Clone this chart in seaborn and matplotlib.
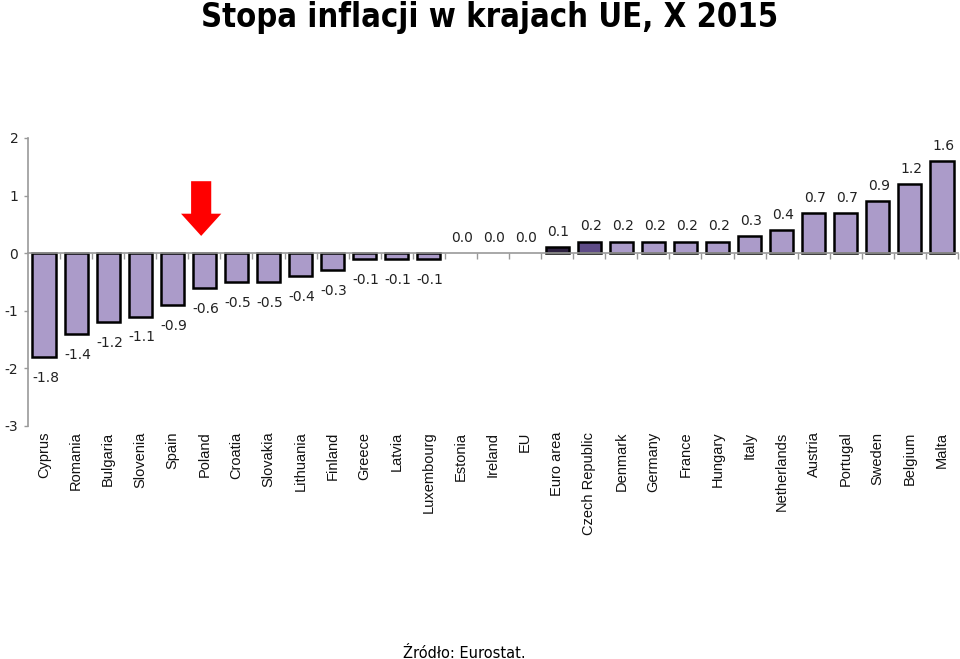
import matplotlib
matplotlib.use("Agg")
import matplotlib.pyplot as plt
import seaborn as sns

categories = ["Cyprus", "Romania", "Bulgaria", "Slovenia", "Spain", "Poland", "Croatia",
              "Slovakia", "Lithuania", "Finland", "Greece", "Latvia", "Luxembourg",
              "Estonia", "Ireland", "EU", "Euro area", "Czech Republic", "Denmark",
              "Germany", "France", "Hungary", "Italy", "Netherlands", "Austria",
              "Portugal", "Sweden", "Belgium", "Malta"]
values = [-1.8, -1.4, -1.2, -1.1, -0.9, -0.6, -0.5, -0.5, -0.4, -0.3, -0.1, -0.1, -0.1,
          0.0, 0.0, 0.0, 0.1, 0.2, 0.2, 0.2, 0.2, 0.2, 0.3, 0.4, 0.7, 0.7, 0.9, 1.2, 1.6]
highlight = "Poland"
special_colors = {"Euro area": "#2d2040", "Czech Republic": "#5e4b87"}
base_color = "#ab9bc9"
yticks = [-3, -2, -1, 0, 1, 2]

sns.set_theme(style="white")
plt.rcParams["axes.unicode_minus"] = False
plt.rcParams["font.family"] = ["DejaVu Sans"]

fig = plt.figure(figsize=(9.6, 6.59), dpi=100)
ax = fig.add_axes([28 / 960, 1 - 426 / 659, 930 / 960, 288 / 659])

palette = {c: special_colors.get(c, base_color) for c in categories}
sns.barplot(x=categories, y=values, hue=categories, palette=palette, legend=False,
            width=0.72, edgecolor="black", linewidth=1.8, saturation=1, ax=ax)
for p in ax.patches:
    if abs(p.get_height()) < 1e-9:
        p.set_linewidth(0)

n = len(categories)
ax.set_xlim(-0.5, n - 0.5)
ax.set_ylim(-3, 2)
ax.set_yticks(yticks)
ax.set_yticklabels([str(t) for t in yticks], fontsize=10, color="#222222")
ax.tick_params(axis="y", left=True, length=3, width=1, color="#999999", pad=4)
ax.set_xticks(range(n))
ax.set_xticklabels(categories, rotation=90, fontsize=10.5, family="Liberation Sans",
                   va="top", ha="center", color="#111111")
ax.tick_params(axis="x", bottom=False, length=0, pad=4)
for s in ["top", "right", "bottom"]:
    ax.spines[s].set_visible(False)
ax.spines["left"].set_color("#999999")
ax.spines["left"].set_linewidth(1.2)

# zero axis with boundary ticks
ax2 = ax.twiny()
ax2.set_xlim(ax.get_xlim())
ax2.xaxis.set_ticks_position("bottom")
ax2.spines["bottom"].set_position(("data", 0))
for s in ["top", "right", "left"]:
    ax2.spines[s].set_visible(False)
ax2.spines["bottom"].set_color("#999999")
ax2.spines["bottom"].set_linewidth(1.2)
ax2.set_xticks([i + 0.5 for i in range(n)])
ax2.set_xticklabels([])
ax2.tick_params(axis="x", bottom=True, top=False, length=4, width=1, color="#999999",
                direction="out", labelbottom=False)
ax2.set_zorder(ax.get_zorder() + 1)
ax2.patch.set_visible(False)

for i, v in enumerate(values):
    if v < 0:
        ax.annotate(f"{v:.1f}", xy=(i, v), xytext=(1, -10), textcoords="offset points",
                    ha="center", va="top", fontsize=10, color="#222222")
    else:
        ax.annotate(f"{v:.1f}", xy=(i, v), xytext=(1, 6), textcoords="offset points",
                    ha="center", va="bottom", fontsize=10, color="#222222")

hi = categories.index(highlight)
ax.annotate("", xy=(hi - 0.1, 0.30), xytext=(hi - 0.1, 1.25),
            arrowprops=dict(arrowstyle="simple,head_length=16,head_width=29,tail_width=14.5",
                            mutation_scale=1, color="#ff0000", shrinkA=0, shrinkB=0, lw=0))

fig.text(0.51, 0.999, "Stopa inflacji w krajach UE, X 2015", ha="center", va="top",
         fontsize=23.5, fontweight="bold", stretch="condensed", color="black")
fig.text(464 / 960, 1 - 653 / 659, "Źródło: Eurostat.", ha="center", va="center",
         fontsize=10.5, color="black")

fig.savefig("out.png", dpi=100)
